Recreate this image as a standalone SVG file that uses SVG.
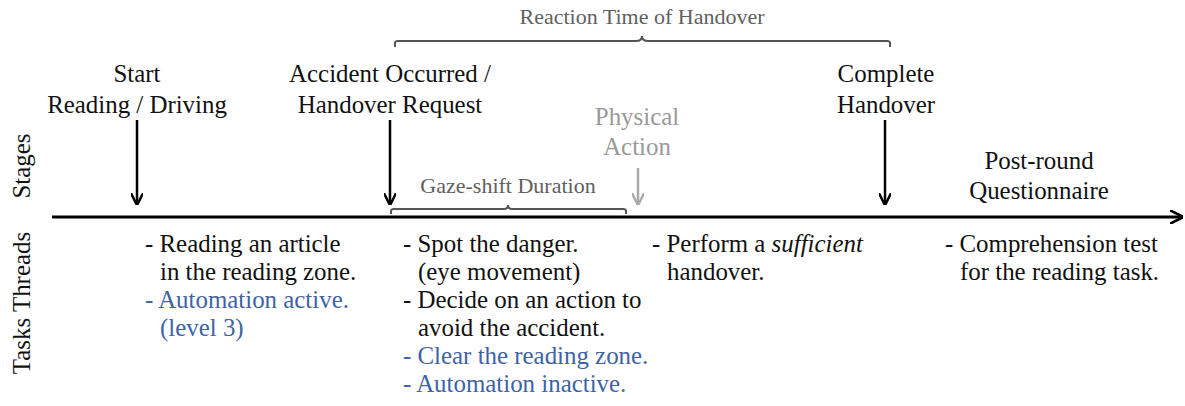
<svg xmlns="http://www.w3.org/2000/svg" width="1185" height="406" viewBox="0 0 1185 406">
  <style>
    text { font-family: "Liberation Serif", "DejaVu Serif", serif; font-size: 24.9px; fill: #111; }
    .mid { text-anchor: middle; }
    .note { fill: #606060; font-size: 22px; }
    .gray { fill: #999; }
    .blue { fill: #3d63a6; }
    .axis { stroke: #000; stroke-width: 3; fill: none; }
    .arrow { stroke: #000; stroke-width: 2.5; fill: none; }
    .arrow-gray { stroke: #aaa; stroke-width: 2.5; fill: none; }
    .brace { stroke: #555; stroke-width: 2; fill: none; }
  </style>
  <defs>
    <marker id="head" viewBox="0 0 10 10" refX="9" refY="5" markerWidth="5" markerHeight="5" orient="auto" markerUnits="strokeWidth">
      <path d="M0,0 L10,5 L0,10" fill="none" stroke="#000" stroke-width="2"/>
    </marker>
    <marker id="head-gray" viewBox="0 0 10 10" refX="9" refY="5" markerWidth="5" markerHeight="5" orient="auto" markerUnits="strokeWidth">
      <path d="M0,0 L10,5 L0,10" fill="none" stroke="#aaa" stroke-width="2"/>
    </marker>
    <marker id="axis-head" viewBox="0 0 10 10" refX="9" refY="5" markerWidth="4.5" markerHeight="4.5" orient="auto" markerUnits="strokeWidth">
      <path d="M0,0 L10,5 L0,10" fill="none" stroke="#000" stroke-width="2"/>
    </marker>
  </defs>

  <!-- side labels -->
  <g id="label-stages"><text class="mid" transform="translate(30,166) rotate(-90)">Stages</text></g>
  <g id="label-threads"><text class="mid" transform="translate(30,303) rotate(-90)">Tasks Threads</text></g>

  <!-- timeline and stage arrows -->
  <g id="connectors">
    <line class="axis" x1="52" y1="217" x2="1182" y2="217" marker-end="url(#axis-head)"/>
    <line class="arrow" x1="137" y1="120" x2="137" y2="204" marker-end="url(#head)"/>
    <line class="arrow" x1="390" y1="120" x2="390" y2="204" marker-end="url(#head)"/>
    <line class="arrow" x1="885" y1="120" x2="885" y2="204" marker-end="url(#head)"/>
    <line class="arrow-gray" x1="638" y1="168" x2="638" y2="204" marker-end="url(#head-gray)"/>
  </g>

  <!-- reaction time brace -->
  <g id="brace-reaction">
    <path class="brace" d="M395,47 L395,43 Q395,41 398,41 L636,41 Q642,41 642,36 Q642,41 648,41 L887,41 Q890,41 890,43 L890,47"/>
    <text class="note mid" x="642" y="24">Reaction Time of Handover</text>
  </g>

  <!-- gaze-shift brace -->
  <g id="brace-gaze">
    <path class="brace" d="M391,214 L391,211 Q391,209 394,209 L504,209 Q508,209 508,205 Q508,209 512,209 L623,209 Q626,209 626,211 L626,214"/>
    <text class="note mid" x="508" y="193">Gaze-shift Duration</text>
  </g>

  <!-- stages -->
  <g id="stage-start">
    <text class="mid" x="137" y="82">Start</text>
    <text class="mid" x="137" y="113">Reading / Driving</text>
  </g>
  <g id="stage-accident">
    <text class="mid" x="390" y="82">Accident Occurred /</text>
    <text class="mid" x="390" y="113">Handover Request</text>
  </g>
  <g id="stage-physical">
    <text class="mid gray" x="637" y="125">Physical</text>
    <text class="mid gray" x="637" y="155">Action</text>
  </g>
  <g id="stage-complete">
    <text class="mid" x="886" y="82">Complete</text>
    <text class="mid" x="886" y="113">Handover</text>
  </g>
  <g id="stage-post">
    <text class="mid" x="1039" y="169">Post-round</text>
    <text class="mid" x="1039" y="199">Questionnaire</text>
  </g>

  <!-- task threads -->
  <g id="tasks-reading">
    <text x="145" y="252">- Reading an article</text>
    <text x="160" y="280">in the reading zone.</text>
    <text class="blue" x="145" y="308">- Automation active.</text>
    <text class="blue" x="160" y="336">(level 3)</text>
  </g>
  <g id="tasks-handover">
    <text x="403" y="252">- Spot the danger.</text>
    <text x="418" y="280">(eye movement)</text>
    <text x="403" y="308">- Decide on an action to</text>
    <text x="418" y="336">avoid the accident.</text>
    <text class="blue" x="403" y="364">- Clear the reading zone.</text>
    <text class="blue" x="403" y="392">- Automation inactive.</text>
  </g>
  <g id="tasks-perform">
    <text x="652" y="252">- Perform a <tspan font-style="italic">sufficient</tspan></text>
    <text x="667" y="280">handover.</text>
  </g>
  <g id="tasks-post">
    <text x="945" y="252">- Comprehension test</text>
    <text x="960" y="280">for the reading task.</text>
  </g>
</svg>
